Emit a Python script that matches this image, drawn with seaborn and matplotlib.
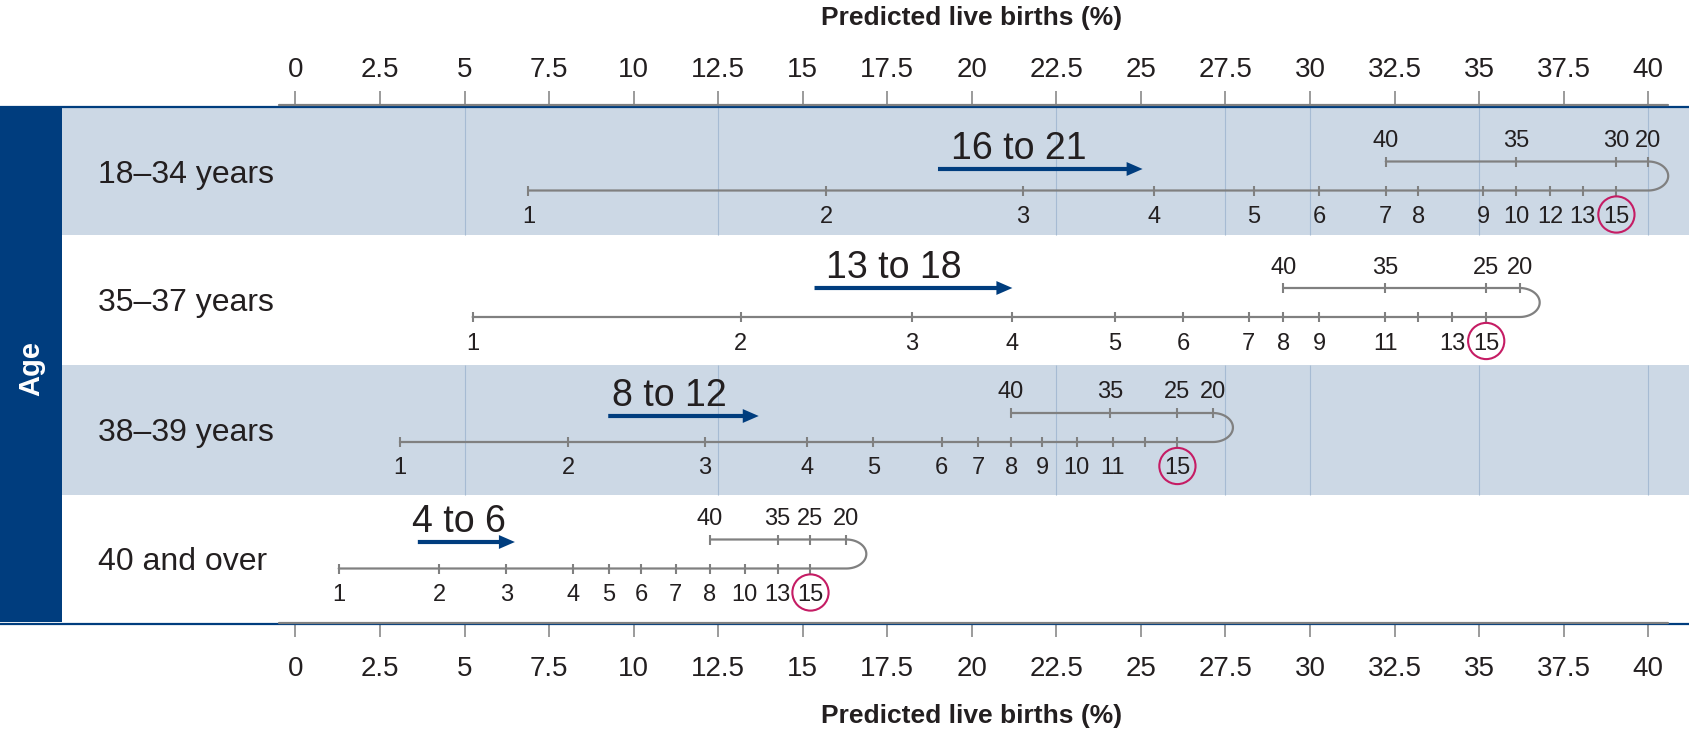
import numpy as np
import pandas as pd
import matplotlib
matplotlib.use('Agg')
import matplotlib.pyplot as plt
from matplotlib.patches import Rectangle
import seaborn as sns

# ---- values ----
age_groups = ["18–34 years", "35–37 years", "38–39 years", "40 and over"]
range_labels = ["16 to 21", "13 to 18", "8 to 12", "4 to 6"]
range_start = [19.0, 15.35, 9.25, 3.62]
range_end = [25.05, 21.2, 13.7, 6.49]
range_text_x = [21.4, 17.7, 11.05, 4.85]

# number of eggs on the rising (lower) scale and predicted live births (%)
eggs_rising = [
    [1, 2, 3, 4, 5, 6, 7, 8, 9, 10, 12, 13, 15],
    [1, 2, 3, 4, 5, 6, 7, 8, 9, 11, 12, 13, 15],
    [1, 2, 3, 4, 5, 6, 7, 8, 9, 10, 11, 13, 15],
    [1, 2, 3, 4, 5, 6, 7, 8, 10, 13, 15],
]
births_rising = [
    [6.89, 15.7, 21.5, 25.38, 28.33, 30.28, 32.24, 33.2, 35.13, 36.1, 37.1, 38.06, 39.06],
    [5.24, 13.17, 18.23, 21.2, 24.23, 26.25, 28.19, 29.21, 30.27, 32.23, 33.19, 34.2, 35.21],
    [3.09, 8.07, 12.1, 15.13, 17.09, 19.11, 20.18, 21.17, 22.09, 23.1, 24.17, 25.11, 26.08],
    [1.28, 4.25, 6.24, 8.2, 9.26, 10.22, 11.24, 12.26, 13.28, 14.26, 15.23],
]
unlabelled = [[], [12], [13], []]
# falling (upper) scale, starting at the peak
eggs_falling = [[20, 30, 35, 40], [20, 25, 35, 40], [20, 25, 35, 40], [20, 25, 35, 40]]
births_falling = [
    [40.0, 39.06, 36.1, 32.24],
    [36.2, 35.21, 32.23, 29.21],
    [27.13, 26.08, 24.1, 21.16],
    [16.29, 15.23, 14.26, 12.26],
]
highlight_eggs = 15
x_ticks = np.arange(0, 40.1, 2.5)
grid_x = [5, 12.5, 22.5, 27.5, 30, 35, 40]
shaded_rows = [0, 2]

# ---- layout (pixels) ----
W, H = 1690, 733
PX0, PX_PER = 295.4, 33.82
def px2v(px):
    return (px - PX0) / PX_PER

band_edges = [107, 235, 365, 494.5, 622]
line_y = [190.5, 317, 442, 568.5]
arrow_y = [169, 288, 416, 542]
gap = 29

DARK = '#003D7E'
BAND = '#CCD8E5'
GRID = '#A6BBD3'
GRAY = '#808080'
MAGENTA = '#C51C64'
TEXT = '#231F20'

sns.set_theme(style='white')
NARROW = ['Liberation Sans Narrow', 'Liberation Sans', 'DejaVu Sans']
plt.rcParams['font.family'] = NARROW

fig = plt.figure(figsize=(W / 100, H / 100), dpi=100)
top_px, bot_px, left_px = 105, 623, 62
ax = fig.add_axes([left_px / W, 1 - bot_px / H, 1 - left_px / W, (bot_px - top_px) / H])
ax.set_xlim(px2v(left_px), px2v(W))
ax.set_ylim(bot_px, top_px)
for s in ax.spines.values():
    s.set_visible(False)
ax.set_yticks([])

# bands and grid
for i in shaded_rows:
    ax.axhspan(band_edges[i], band_edges[i + 1], color=BAND, zorder=0, lw=0)
    ax.vlines(grid_x, band_edges[i], band_edges[i + 1], color=GRID, lw=0.8, zorder=0.5)

# axis lines
xl0, xl1 = px2v(0), px2v(W)
for yb, yg in [(106.6, 105), (624, 622.5)]:
    ax.plot([xl0, xl1], [yb, yb], color=DARK, lw=1.6, clip_on=False, zorder=1)
    ax.plot([px2v(279), px2v(1668)], [yg, yg], color=GRAY, lw=1.6, clip_on=False, zorder=2)

# left bar
ax.add_patch(Rectangle((xl0, band_edges[0]), px2v(left_px) - xl0, band_edges[-1] - band_edges[0],
                       color=DARK, clip_on=False, zorder=3, lw=0))
ax.text(px2v(31), 368, 'Age', rotation=90, color='white', fontsize=21, fontweight='bold',
        family=['Liberation Sans', 'DejaVu Sans'], ha='center', va='center')

rx = 20 / PX_PER
ry = gap / 2
t = np.linspace(np.pi / 2, -np.pi / 2, 40)
for i in range(4):
    ly, uy = line_y[i], line_y[i] - gap
    peak = births_falling[i][0]
    xs = list(births_rising[i]) + [peak] + list(peak + rx * np.cos(t)) + list(births_falling[i][1:])
    ys = [ly] * (len(births_rising[i]) + 1) + list(ly - ry + ry * np.sin(t)) + [uy] * (len(births_falling[i]) - 1)
    path = pd.DataFrame({'x': xs, 'y': ys})
    sns.lineplot(data=path, x='x', y='y', sort=False, estimator=None, color=GRAY, lw=1.6, ax=ax, zorder=2)

    tk = pd.DataFrame({'x': list(births_rising[i]) + list(births_falling[i]),
                       'y': [ly] * len(births_rising[i]) + [uy] * len(births_falling[i])})
    sns.scatterplot(data=tk, x='x', y='y', marker='|', s=50, color=GRAY, linewidth=1.5, ax=ax, zorder=3)

    for e, v in zip(eggs_rising[i], births_rising[i]):
        if e in unlabelled[i]:
            continue
        ax.text(v, ly + 24, str(e), ha='center', va='center_baseline', fontsize=17, color=TEXT)
        if e == highlight_eggs:
            ax.scatter([v], [ly + 24], s=680, facecolors='none', edgecolors=MAGENTA, linewidths=1.5, zorder=4)
    for e, v in zip(eggs_falling[i], births_falling[i]):
        ax.text(v, uy - 23, str(e), ha='center', va='center_baseline', fontsize=17, color=TEXT)

    # range arrow
    ax.annotate('', xy=(range_end[i], arrow_y[i]), xytext=(range_start[i], arrow_y[i]),
                arrowprops=dict(arrowstyle='simple,head_length=1.15,head_width=1.0,tail_width=0.3',
                                mutation_scale=10, color=DARK, lw=0, shrinkA=0, shrinkB=0))
    ax.text(range_text_x[i], arrow_y[i] - 24, range_labels[i], ha='center', va='center_baseline',
            fontsize=27, color=TEXT)

    ax.text(px2v(97.6), (band_edges[i] + band_edges[i + 1]) / 2, age_groups[i], ha='left',
            va='center_baseline', fontsize=23, color=TEXT, clip_on=False)

# x axes top and bottom
tick_lbls = [f'{v:g}' for v in x_ticks]
ax.set_xticks(x_ticks, tick_lbls)
ax.tick_params(axis='x', bottom=True, direction='out', length=10, width=1.1, color=GRAY,
               labelsize=20, labelcolor=TEXT, pad=14)
ax.set_xlabel('')
ax.set_ylabel('')
sec = ax.secondary_xaxis('top')
sec.set_xticks(x_ticks, tick_lbls)
sec.tick_params(axis='x', top=True, direction='out', length=10, width=1.1, color=GRAY,
                labelsize=20, labelcolor=TEXT, pad=6)
for s in sec.spines.values():
    s.set_visible(False)

ax.text(20, 18, 'Predicted live births (%)', ha='center', va='center', fontsize=19,
        fontweight='bold', color=TEXT, clip_on=False)
ax.text(20, 716, 'Predicted live births (%)', ha='center', va='center', fontsize=19,
        fontweight='bold', color=TEXT, clip_on=False)

fig.savefig('out.png', dpi=100)
